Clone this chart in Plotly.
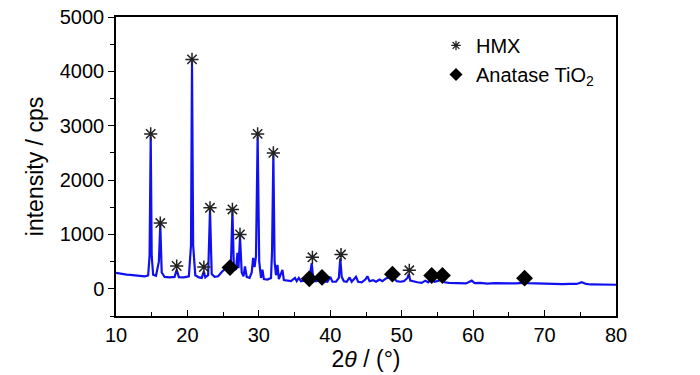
import plotly.graph_objects as go

# XRD pattern (2theta, intensity)
two_theta = [10.0, 10.5, 11.0, 11.5, 12.0, 12.5, 13.0, 13.5, 14.0, 14.5, 14.7, 14.86, 15.0, 15.2, 15.6,
             16.0, 16.2, 16.4, 16.8, 17.5, 18.2, 18.5, 18.8, 19.5, 20.2, 20.5, 20.64, 20.8, 21.1, 21.6,
             22.0, 22.3, 22.5, 22.9, 23.16, 23.4, 23.8, 24.3, 24.8, 25.4, 25.8, 26.1, 26.3, 26.5, 26.8,
             27.0, 27.15, 27.36, 27.6, 27.85, 28.06, 28.3, 28.7, 29.0, 29.2, 29.4, 29.6, 29.83, 30.05, 30.3,
             30.5, 30.7, 31.2, 31.7, 31.85, 32.03, 32.2, 32.4, 32.6, 32.8, 33.3, 33.5, 34.0, 34.5, 35.06,
             35.3, 35.6, 35.9, 36.3, 36.9, 37.1, 37.4, 37.6, 37.9, 38.3, 38.84, 39.1, 39.6, 40.0, 40.3,
             40.8, 41.2, 41.4, 41.6, 41.9, 42.3, 42.7, 43.0, 43.6, 43.9, 44.4, 44.9, 45.2, 45.5, 46.0,
             46.4, 46.9, 47.3, 47.8, 48.3, 48.6, 48.9, 49.3, 49.8, 50.3, 50.8, 51.0, 51.2, 51.7, 52.2,
             52.8, 53.3, 53.7, 54.2, 54.6, 55.2, 55.6, 56.0, 56.6, 57.2, 57.8, 58.4, 59.0, 59.8, 60.2,
             61.0, 62.0, 63.0, 64.0, 65.0, 66.0, 67.0, 67.3, 67.6, 68.5, 69.5, 70.5, 71.5, 72.5, 73.5,
             74.5, 75.2, 75.8, 76.5, 77.5, 78.5, 79.5, 80.0]
intensity = [295, 280, 270, 262, 255, 250, 240, 232, 228, 245, 600, 2800, 600, 260, 240,
             500, 1176, 300, 220, 210, 220, 350, 215, 210, 230, 800, 4180, 800, 250, 210,
             200, 320, 210, 250, 1450, 270, 220, 230, 310, 380, 400, 500, 1420, 400, 350,
             660, 380, 960, 300, 230, 410, 220, 200, 300, 570, 400, 600, 2800, 500, 200,
             350, 180, 170, 200, 700, 2460, 500, 250, 440, 180, 350, 160, 150, 140, 200,
             140, 200, 140, 150, 190, 200, 470, 200, 140, 150, 190, 140, 130, 220, 130,
             130, 200, 560, 220, 140, 130, 210, 130, 220, 130, 120, 170, 230, 140, 160,
             130, 170, 140, 190, 210, 260, 200, 140, 130, 140, 200, 275, 150, 130, 120,
             110, 150, 120, 180, 130, 150, 180, 120, 110, 110, 100, 110, 100, 150, 105,
             110, 95, 105, 100, 95, 100, 110, 140, 105, 100, 95, 90, 95, 85, 90,
             90, 120, 90, 80, 80, 75, 75, 75]

# HMX peak markers
hmx_x = [14.86, 16.2, 18.5, 20.64, 22.3, 23.16, 26.3, 27.36, 29.83, 32.03, 37.5, 41.5, 51.06]
hmx_y = [2850, 1210, 420, 4220, 400, 1490, 1460, 1000, 2850, 2500, 580, 630, 340]

# Anatase TiO2 peak markers
tio2_x = [25.96, 37.06, 38.84, 48.7, 54.2, 55.7, 67.2]
tio2_y = [390, 184, 210, 270, 245, 245, 196]

x_ticks = [10, 20, 30, 40, 50, 60, 70, 80]
y_ticks = [0, 1000, 2000, 3000, 4000, 5000]

FONT = "Liberation Sans, Arial, sans-serif"

fig = go.Figure()
fig.add_trace(go.Scatter(x=two_theta, y=intensity, mode="lines",
                         line=dict(color="#1010f0", width=2.2), showlegend=False))
fig.add_trace(go.Scatter(x=hmx_x, y=hmx_y, mode="markers", showlegend=False,
                         marker=dict(symbol="asterisk-open", size=11, color="#222222",
                                     line=dict(width=1.5, color="#222222"))))
fig.add_trace(go.Scatter(x=tio2_x, y=tio2_y, mode="markers", showlegend=False,
                         marker=dict(symbol="diamond", size=13, color="black")))
# legend entries (smaller symbols as in the reference)
fig.add_trace(go.Scatter(x=[None], y=[None], mode="markers", name="HMX",
                         marker=dict(symbol="asterisk-open", size=8, color="#222222",
                                     line=dict(width=1.3, color="#222222"))))
fig.add_trace(go.Scatter(x=[None], y=[None], mode="markers", name="Anatase TiO<sub>2</sub>",
                         marker=dict(symbol="diamond", size=10, color="black")))

# page body has an 8px margin, so the figure is sized/offset to put the plot at 116..616 x 17..316
fig.update_layout(
    width=692, height=367,
    margin=dict(l=108, r=84, t=9, b=59, autoexpand=False),
    plot_bgcolor="white", paper_bgcolor="white",
    font=dict(family=FONT, size=19, color="black"),
    legend=dict(x=0.64, y=0.97, xanchor="left", yanchor="top",
                bgcolor="rgba(0,0,0,0)", font=dict(size=20), itemwidth=30,
                tracegroupgap=4),
)
fig.update_xaxes(range=[10, 80], tickvals=x_ticks, ticks="inside", ticklen=6,
                 tickcolor="black", showline=True, linecolor="black", linewidth=1.5,
                 mirror=True, showgrid=False, zeroline=False, automargin=False,
                 tickfont=dict(size=20), ticklabeloverflow="allow",
                 minor=dict(dtick=5, ticks="inside", ticklen=4, tickcolor="black"),
                 title=dict(text="2<i>θ</i> / (°)", standoff=2))
fig.update_yaxes(range=[-500, 5000], tickvals=y_ticks, ticks="outside", ticklen=6,
                 tickcolor="black", showline=True, linecolor="black", linewidth=1.5,
                 mirror=True, showgrid=False, zeroline=False, automargin=False,
                 tickfont=dict(size=20), ticklabeloverflow="allow",
                 minor=dict(dtick=500, ticks="outside", ticklen=4, tickcolor="black"),
                 title=dict(text="intensity / cps", standoff=10))

fig.write_html("out.html")
